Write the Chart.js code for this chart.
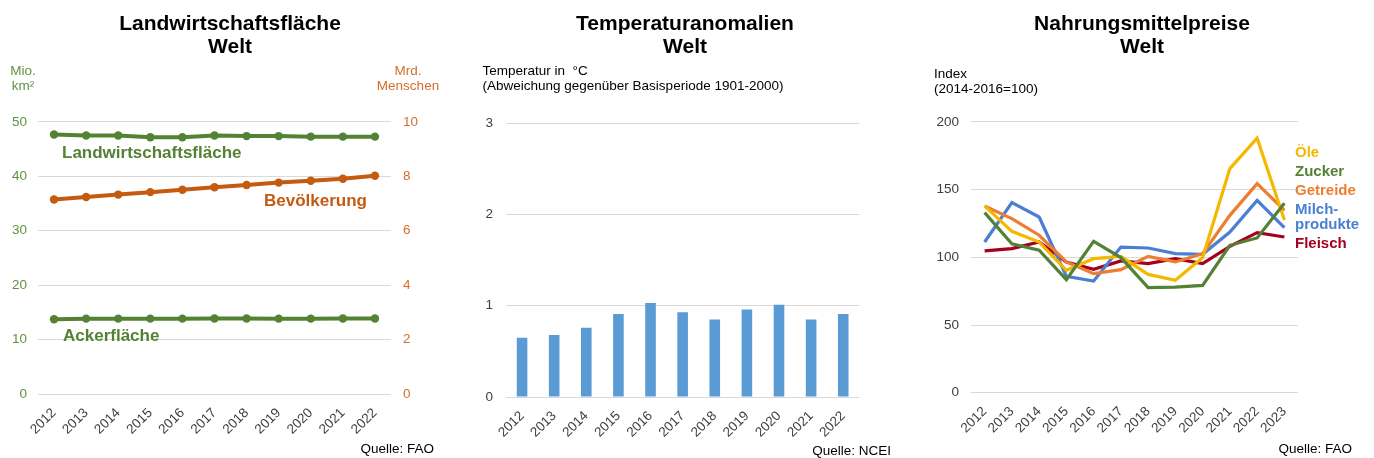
<!DOCTYPE html>
<html>
<head>
<meta charset="utf-8">
<script src="https://cdn.jsdelivr.net/npm/chart.js@4"></script>
<style>
  html, body { margin: 0; padding: 0; background: #ffffff; }
  #wrap { position: relative; width: 1374px; height: 458px; overflow: hidden; }
  canvas { position: absolute; top: 0; }
</style>
</head>
<body>
<div id="wrap">
  <canvas id="c1" width="460" height="458" style="left:0px;width:460px;height:458px"></canvas>
  <canvas id="c2" width="450" height="458" style="left:460px;width:450px;height:458px"></canvas>
  <canvas id="c3" width="464" height="458" style="left:910px;width:464px;height:458px"></canvas>
</div>
<script>
// ---------- DATA ----------
const yearsA = ['2012','2013','2014','2015','2016','2017','2018','2019','2020','2021','2022'];
const yearsB = ['2012','2013','2014','2015','2016','2017','2018','2019','2020','2021','2022','2023'];

// Landwirtschaftsfläche (Mio. km²), Bevölkerung (Mrd.), Ackerfläche (Mio. km²)
const agriLand   = [47.7, 47.5, 47.5, 47.2, 47.2, 47.5, 47.4, 47.4, 47.3, 47.3, 47.3];
const population = [7.15, 7.24, 7.33, 7.42, 7.51, 7.60, 7.68, 7.77, 7.84, 7.91, 8.02];
const cropland   = [13.75, 13.85, 13.85, 13.85, 13.85, 13.87, 13.87, 13.85, 13.85, 13.87, 13.87];

// Temperaturanomalien (°C)
const tempAnomaly = [0.65, 0.68, 0.76, 0.91, 1.03, 0.93, 0.85, 0.96, 1.01, 0.85, 0.91];

// Nahrungsmittelpreise (Index 2014-2016=100)
const oils    = [138.0, 119.2, 111.3, 90.4, 99.0, 100.7, 87.4, 83.0, 99.8, 165.5, 188.0, 127.5];
const sugar   = [133.0, 110.0, 105.2, 83.5, 111.8, 99.8, 77.6, 78.0, 79.3, 108.9, 114.3, 140.0];
const cereals = [137.9, 128.6, 116.3, 96.6, 87.9, 90.9, 100.7, 96.6, 102.7, 131.0, 154.4, 134.7];
const dairy   = [111.3, 140.4, 129.8, 86.0, 82.5, 107.6, 106.9, 102.7, 102.2, 118.7, 142.0, 121.9];
const meat    = [104.7, 106.4, 111.3, 96.6, 91.1, 97.3, 95.3, 99.0, 95.3, 108.1, 118.2, 115.0];

// ---------- STYLE ----------
const FONT = "'Liberation Sans', Arial, Helvetica, sans-serif";
Chart.defaults.font.family = FONT;
Chart.defaults.font.size = 13.5;
Chart.defaults.color = '#404040';

const GREEN = '#548235', ORANGE = '#c55a11';
const GREEN_T = '#5f9140', ORANGE_T = '#d46e2a';
const GRID = '#d9d9d9';
const TXT = '#404040';
const SMALL = '13.5px ' + FONT;

// plugin to draw free text labels
const textLabels = {
  id: 'textLabels',
  afterDraw(chart, args, opts) {
    const ctx = chart.ctx;
    (opts.items || []).forEach(it => {
      ctx.save();
      ctx.font = it.font || SMALL;
      ctx.fillStyle = it.color || TXT;
      ctx.textAlign = it.align || 'left';
      ctx.textBaseline = 'middle';
      ctx.fillText(it.text, it.x, it.y);
      ctx.restore();
    });
  }
};
Chart.register(textLabels);

function titleOpts(lines, bottomPad) {
  return {
    display: true,
    text: lines,
    color: '#000000',
    font: { size: 21, weight: 'bold', lineHeight: 1.12 },
    padding: { top: 12, bottom: bottomPad }
  };
}

function xAxis(height) {
  return {
    type: 'category',
    offset: true,
    grid: { display: false },
    border: { display: false },
    ticks: { color: TXT, font: { size: 13.5 }, minRotation: 45, maxRotation: 45, autoSkip: false, padding: 3 },
    afterFit: s => { s.height = height; }
  };
}

// invisible spacer axis on the right
function spacer(width) {
  return {
    position: 'right', display: true, min: 0, max: 1,
    grid: { display: false, drawTicks: false }, border: { display: false },
    ticks: { display: false },
    afterFit: s => { s.width = width; }
  };
}

// ---------- CHART 1 ----------
new Chart(document.getElementById('c1'), {
  type: 'line',
  data: {
    labels: yearsA,
    datasets: [
      { label: 'Landwirtschaftsfläche', data: agriLand, yAxisID: 'y', borderColor: GREEN, backgroundColor: GREEN,
        borderWidth: 4, pointRadius: 4.2, pointBorderWidth: 0, pointBackgroundColor: GREEN, tension: 0 },
      { label: 'Bevölkerung', data: population, yAxisID: 'y1', borderColor: ORANGE, backgroundColor: ORANGE,
        borderWidth: 4, pointRadius: 4.2, pointBorderWidth: 0, pointBackgroundColor: ORANGE, tension: 0 },
      { label: 'Ackerfläche', data: cropland, yAxisID: 'y', borderColor: GREEN, backgroundColor: GREEN,
        borderWidth: 4, pointRadius: 4.2, pointBorderWidth: 0, pointBackgroundColor: GREEN, tension: 0 }
    ]
  },
  options: {
    responsive: false, animation: false, devicePixelRatio: 1,
    layout: { padding: 0 },
    plugins: {
      legend: { display: false }, tooltip: { enabled: false },
      title: titleOpts(['Landwirtschaftsfläche', 'Welt'], 62.9),
      textLabels: { items: [
        { text: 'Mio.', x: 23, y: 71, align: 'center', color: GREEN_T },
        { text: 'km²', x: 23, y: 86, align: 'center', color: GREEN_T },
        { text: 'Mrd.', x: 408, y: 71, align: 'center', color: ORANGE_T },
        { text: 'Menschen', x: 408, y: 86, align: 'center', color: ORANGE_T },
        { text: 'Landwirtschaftsfläche', x: 62, y: 153, align: 'left', color: GREEN, font: 'bold 17px ' + FONT },
        { text: 'Bevölkerung', x: 367, y: 201, align: 'right', color: ORANGE, font: 'bold 17px ' + FONT },
        { text: 'Ackerfläche', x: 63, y: 336, align: 'left', color: GREEN, font: 'bold 17px ' + FONT },
        { text: 'Quelle: FAO', x: 434, y: 449, align: 'right', color: '#000000' }
      ] }
    },
    scales: {
      x: xAxis(64),
      y: { position: 'left', min: 0, max: 50, grid: { color: GRID, drawTicks: false }, border: { display: false },
           ticks: { stepSize: 10, color: GREEN_T, padding: 11 }, afterFit: s => { s.width = 38; } },
      y1: { position: 'right', min: 0, max: 10, grid: { display: false, drawTicks: false }, border: { display: false },
           ticks: { stepSize: 2, color: ORANGE_T, padding: 12 }, afterFit: s => { s.width = 69; } }
    }
  }
});

// ---------- CHART 2 ----------
new Chart(document.getElementById('c2'), {
  type: 'bar',
  data: {
    labels: yearsA,
    datasets: [
      { label: 'Temperaturanomalie', data: tempAnomaly, backgroundColor: '#5b9bd5', borderWidth: 0,
        categoryPercentage: 1.0, barPercentage: 0.33 }
    ]
  },
  options: {
    responsive: false, animation: false, devicePixelRatio: 1,
    layout: { padding: 0 },
    plugins: {
      legend: { display: false }, tooltip: { enabled: false },
      title: titleOpts(['Temperaturanomalien', 'Welt'], 64.2),
      textLabels: { items: [
        { text: 'Temperatur in  °C', x: 22.5, y: 71, align: 'left', color: '#000000' },
        { text: '(Abweichung gegenüber Basisperiode 1901-2000)', x: 22.5, y: 86, align: 'left', color: '#000000' },
        { text: 'Quelle: NCEI', x: 431, y: 451, align: 'right', color: '#000000' }
      ] }
    },
    scales: {
      x: xAxis(61),
      y: { position: 'left', min: 0, max: 3, grid: { color: GRID, drawTicks: false }, border: { display: false },
           ticks: { stepSize: 1, color: TXT, padding: 13 }, afterFit: s => { s.width = 46; } },
      yR: spacer(50.7)
    }
  }
});

// ---------- CHART 3 ----------
function priceSet(label, data, color) {
  return { label, data, borderColor: color, backgroundColor: color, borderWidth: 3.2,
           pointRadius: 0, tension: 0, fill: false };
}
new Chart(document.getElementById('c3'), {
  type: 'line',
  data: {
    labels: yearsB,
    datasets: [
      priceSet('Zucker', sugar, '#548235'),
      priceSet('Öle', oils, '#f5b800'),
      priceSet('Getreide', cereals, '#ed7d31'),
      priceSet('Milchprodukte', dairy, '#4a7fd4'),
      priceSet('Fleisch', meat, '#a50021')
    ]
  },
  options: {
    responsive: false, animation: false, devicePixelRatio: 1,
    layout: { padding: 0 },
    plugins: {
      legend: { display: false }, tooltip: { enabled: false },
      title: titleOpts(['Nahrungsmittelpreise', 'Welt'], 62.9),
      textLabels: { items: [
        { text: 'Index', x: 24, y: 74, align: 'left', color: '#000000' },
        { text: '(2014-2016=100)', x: 24, y: 89, align: 'left', color: '#000000' },
        { text: 'Öle', x: 385, y: 153, align: 'left', color: '#f5b800', font: 'bold 15px ' + FONT },
        { text: 'Zucker', x: 385, y: 172, align: 'left', color: '#548235', font: 'bold 15px ' + FONT },
        { text: 'Getreide', x: 385, y: 191, align: 'left', color: '#ed7d31', font: 'bold 15px ' + FONT },
        { text: 'Milch-', x: 385, y: 210, align: 'left', color: '#4a7fd4', font: 'bold 15px ' + FONT },
        { text: 'produkte', x: 385, y: 225, align: 'left', color: '#4a7fd4', font: 'bold 15px ' + FONT },
        { text: 'Fleisch', x: 385, y: 244, align: 'left', color: '#a50021', font: 'bold 15px ' + FONT },
        { text: 'Quelle: FAO', x: 442, y: 449, align: 'right', color: '#000000' }
      ] }
    },
    scales: {
      x: xAxis(65.3),
      y: { position: 'left', min: 0, max: 200, grid: { color: GRID, drawTicks: false }, border: { display: false },
           ticks: { stepSize: 50, color: TXT, padding: 12 }, afterFit: s => { s.width = 61; } },
      yR: spacer(76)
    }
  }
});
</script>
</body>
</html>
